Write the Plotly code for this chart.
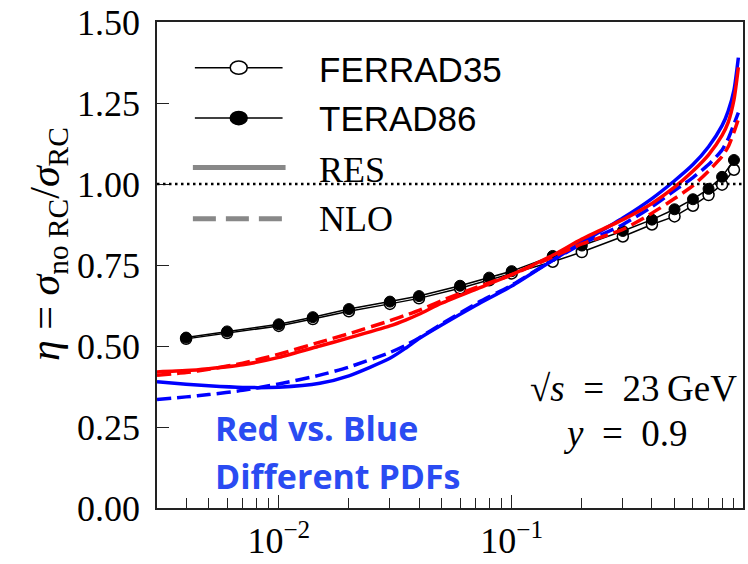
import numpy as np
import plotly.graph_objects as go

# Bjorken-x grid for the coloured ratio curves
x_curve = [0.003, 0.004, 0.005, 0.007, 0.01, 0.015, 0.02, 0.03, 0.035, 0.04, 0.05,
           0.07, 0.1, 0.15, 0.2, 0.3, 0.4, 0.5, 0.6, 0.7, 0.8, 0.85, 0.9, 0.94]

# RES / NLO ratios for the two PDF sets (red, blue)
red_res = [0.42, 0.424, 0.43, 0.442, 0.465, 0.5, 0.525, 0.562, 0.58, 0.598, 0.632,
           0.675, 0.72, 0.78, 0.83, 0.89, 0.94, 0.99, 1.04, 1.09, 1.15, 1.19, 1.26, 1.36]
red_nlo = [0.41, 0.418, 0.428, 0.447, 0.475, 0.512, 0.538, 0.578, 0.595, 0.61, 0.64,
           0.68, 0.72, 0.775, 0.815, 0.86, 0.91, 0.955, 0.995, 1.04, 1.085, 1.115, 1.16, 1.2]
blue_res = [0.39, 0.382, 0.377, 0.372, 0.373, 0.385, 0.408, 0.462, 0.493, 0.523, 0.565,
            0.625, 0.685, 0.765, 0.82, 0.895, 0.955, 1.01, 1.06, 1.115, 1.18, 1.225, 1.29, 1.39]
blue_nlo = [0.335, 0.343, 0.35, 0.363, 0.383, 0.41, 0.435, 0.48, 0.502, 0.525, 0.568,
            0.63, 0.688, 0.765, 0.815, 0.875, 0.93, 0.98, 1.02, 1.06, 1.105, 1.14, 1.185, 1.22]

# Radiative-correction codes evaluated at fixed x points
x_codes = [0.004, 0.006, 0.01, 0.014, 0.02, 0.03, 0.04, 0.06, 0.08, 0.1,
           0.15, 0.2, 0.3, 0.4, 0.5, 0.6, 0.7, 0.8, 0.9]
ferrad35 = [0.522, 0.54, 0.562, 0.583, 0.607, 0.630, 0.647, 0.678, 0.703, 0.724,
            0.76, 0.79, 0.838, 0.875, 0.90, 0.933, 0.966, 0.998, 1.044]
terad86 = [0.526, 0.545, 0.567, 0.589, 0.614, 0.637, 0.654, 0.686, 0.711, 0.731,
           0.778, 0.81, 0.855, 0.89, 0.922, 0.953, 0.985, 1.022, 1.074]

y_ticks = [0, 0.25, 0.5, 0.75, 1.0, 1.25, 1.5]
y_ticktext = ["0.00", "0.25", "0.50", "0.75", "1.00", "1.25", "1.50"]
x_major = [0.01, 0.1]
x_major_text = ["10<sup>\u22122</sup>", "10<sup>\u22121</sup>"]
x_minor = [v * d for d in (0.001, 0.01, 0.1) for v in range(2, 10)]

RED = "#ff0000"
BLUE = "#0000ff"
SERIF = "Liberation Serif"

fig = go.Figure()

fig.add_trace(go.Scatter(x=x_codes, y=ferrad35, mode="lines+markers",
                         line=dict(color="black", width=1.5),
                         marker=dict(symbol="circle", size=11, color="white",
                                     line=dict(color="black", width=1.5)),
                         showlegend=False))
fig.add_trace(go.Scatter(x=x_codes, y=terad86, mode="lines+markers",
                         line=dict(color="black", width=1.5),
                         marker=dict(symbol="circle", size=11, color="black",
                                     line=dict(color="black", width=1)),
                         showlegend=False))

for ys, col, dash in [(blue_res, BLUE, "solid"), (blue_nlo, BLUE, "14px,6px"),
                      (red_res, RED, "solid"), (red_nlo, RED, "14px,6px")]:
    fig.add_trace(go.Scatter(x=x_curve, y=ys, mode="lines",
                             line=dict(color=col, width=3.5, dash=dash,
                                       shape="spline", smoothing=0.6),
                             showlegend=False))

# horizontal reference at eta = 1
fig.add_shape(type="line", xref="paper", x0=0, x1=1, yref="y", y0=1, y1=1,
              line=dict(color="black", width=2.5, dash="2.5px,3.5px"))

# hand-drawn legend (paper coordinates)
def lx(px):
    return (px - 157) / 588.0

def ly(py):
    return (531 - py) / 511.0

for py in (68, 121):
    fig.add_shape(type="line", xref="paper", yref="paper", x0=lx(195), x1=lx(283),
                  y0=ly(py), y1=ly(py), line=dict(color="black", width=1.5))
fig.add_shape(type="circle", xref="paper", yref="paper",
              x0=lx(239 - 8.5), x1=lx(239 + 8.5), y0=ly(68 + 7), y1=ly(68 - 7),
              fillcolor="white", line=dict(color="black", width=1.5))
fig.add_shape(type="circle", xref="paper", yref="paper",
              x0=lx(239 - 8.5), x1=lx(239 + 8.5), y0=ly(121 + 7), y1=ly(121 - 7),
              fillcolor="black", line=dict(color="black", width=1.5))
fig.add_shape(type="line", xref="paper", yref="paper", x0=lx(193), x1=lx(286),
              y0=ly(173), y1=ly(173), line=dict(color="#888888", width=5))
fig.add_shape(type="line", xref="paper", yref="paper", x0=lx(193), x1=lx(286),
              y0=ly(227), y1=ly(227), line=dict(color="#888888", width=5, dash="23px,10px"))

legend_text = [("FERRAD35", 70, "Liberation Sans", 35),
               ("TERAD86", 121, "Liberation Sans", 35),
               ("RES", 176, SERIF, 36),
               ("NLO", 227, SERIF, 36)]
for txt, py, fam, sz in legend_text:
    fig.add_annotation(text=txt, xref="paper", yref="paper", x=lx(318), y=ly(py),
                       xanchor="left", yanchor="middle", showarrow=False,
                       font=dict(family=fam, size=sz, color="black"))

# kinematics
fig.add_annotation(text="\u221a<i>s</i>\u2002=\u200223\u2009GeV", xref="paper", yref="paper",
                   x=lx(741), y=ly(405), xanchor="right", yanchor="middle", showarrow=False,
                   font=dict(family=SERIF, size=37, color="black"))
fig.add_annotation(text="<i>y</i>\u2002=\u20020.9", xref="paper", yref="paper",
                   x=lx(627), y=ly(453), xanchor="center", yanchor="middle", showarrow=False,
                   font=dict(family=SERIF, size=37, color="black"))

# PDF note
for txt, py in [("Red vs. Blue", 447), ("Different PDFs", 497)]:
    fig.add_annotation(text=txt, xref="paper", yref="paper", x=lx(213), y=ly(py),
                       xanchor="left", yanchor="middle", showarrow=False,
                       font=dict(family="Open Sans", size=34, color="#2a4bf2", weight="bold"))

# y-axis title
fig.add_annotation(text="<i>\u03b7</i> = <i>\u03c3</i><sub>no RC</sub>/<i>\u03c3</i><sub>RC</sub>",
                   xref="paper", yref="paper", x=lx(47), y=ly(253),
                   xanchor="center", yanchor="middle", textangle=-90, showarrow=False,
                   font=dict(family=SERIF, size=42, color="black"))

fig.update_xaxes(type="log", range=[np.log10(0.003), np.log10(0.984)],
                 tickmode="array", tickvals=x_major, ticktext=x_major_text,
                 ticks="inside", ticklen=13, tickwidth=1.3, tickcolor="#222",
                 minor=dict(tickmode="array", tickvals=x_minor, ticks="inside",
                            ticklen=10, tickwidth=1.3, tickcolor="#222", showgrid=False),
                 showline=True, linecolor="#222", linewidth=1.8, mirror=True,
                 showgrid=False, zeroline=False,
                 tickfont=dict(family=SERIF, size=36, color="black"))
fig.update_yaxes(range=[0, 1.5], tickmode="array", tickvals=y_ticks, ticktext=y_ticktext,
                 ticks="inside", ticklen=12, tickwidth=1.3, tickcolor="#222",
                 showline=True, linecolor="#222", linewidth=1.8, mirror=True,
                 showgrid=False, zeroline=False, ticklabelstandoff=8,
                 tickfont=dict(family=SERIF, size=36, color="black"))

fig.update_layout(width=748, height=564, margin=dict(l=157, r=3, t=20, b=33),
                  paper_bgcolor="white", plot_bgcolor="white", showlegend=False)

fig.write_html("out.html")
